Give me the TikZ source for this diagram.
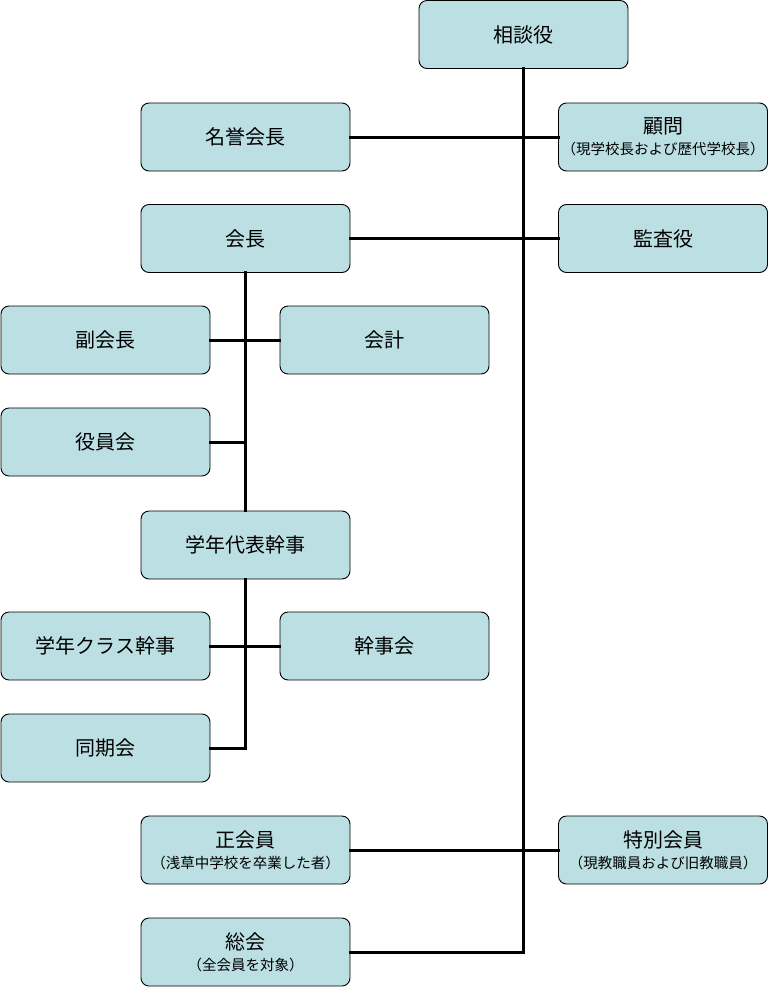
\documentclass[tikz,border=0pt]{standalone}
\usepackage{fontspec}
\setmainfont{Noto Sans CJK JP}
\definecolor{boxfill}{HTML}{BBDFE2}
\tikzset{
  orgbox/.style={draw=black, line width=0.9pt, fill=boxfill, rounded corners=8pt,
    minimum width=209pt, minimum height=68pt, inner sep=0pt, align=center,
    font=\fontsize{20pt}{24pt}\selectfont},
  conn/.style={line width=3pt, line cap=rect},
}
\newcommand{\subl}[1]{{\fontsize{14.5pt}{17pt}\selectfont #1}}
\begin{document}
\begin{tikzpicture}[x=1pt,y=-1pt]
\useasboundingbox (0,0) rectangle (770,988);
\node[orgbox] (soudan) at (523.5,34.5) {相談役};
\node[orgbox] (meiyo) at (245.5,137) {名誉会長};
\node[orgbox] (komon) at (663,137) {顧問\\[-3pt]\subl{（現学校長および歴代学校長）}};
\node[orgbox] (kaicho) at (245.5,238.5) {会長};
\node[orgbox] (kansa) at (663,238.5) {監査役};
\node[orgbox] (fuku) at (105.5,340) {副会長};
\node[orgbox] (kaikei) at (384.5,340) {会計};
\node[orgbox] (yakuin) at (105.5,442) {役員会};
\node[orgbox] (daihyo) at (245.5,545) {学年代表幹事};
\node[orgbox] (class) at (105.5,646) {学年クラス幹事};
\node[orgbox] (kanjikai) at (384.5,646) {幹事会};
\node[orgbox] (doki) at (105.5,748) {同期会};
\node[orgbox] (sei) at (245.5,850) {正会員\\[-3pt]\subl{（浅草中学校を卒業した者）}};
\node[orgbox] (tokubetsu) at (663,850) {特別会員\\[-3pt]\subl{（現教職員および旧教職員）}};
\node[orgbox] (sokai) at (245.5,952) {総会\\[-3pt]\subl{（全会員を対象）}};
\draw[conn] (soudan.south) -- (soudan.south |- sokai.east) -- (sokai.east);
\draw[conn] (meiyo.east) -- (komon.west);
\draw[conn] (kaicho.east) -- (kansa.west);
\draw[conn] (sei.east) -- (tokubetsu.west);
\draw[conn] (kaicho.south) -- (daihyo.north);
\draw[conn] (fuku.east) -- (kaikei.west);
\draw[conn] (yakuin.east) -- (yakuin.east -| kaicho.south);
\draw[conn] (daihyo.south) -- (daihyo.south |- doki.east) -- (doki.east);
\draw[conn] (class.east) -- (kanjikai.west);
\end{tikzpicture}
\end{document}
